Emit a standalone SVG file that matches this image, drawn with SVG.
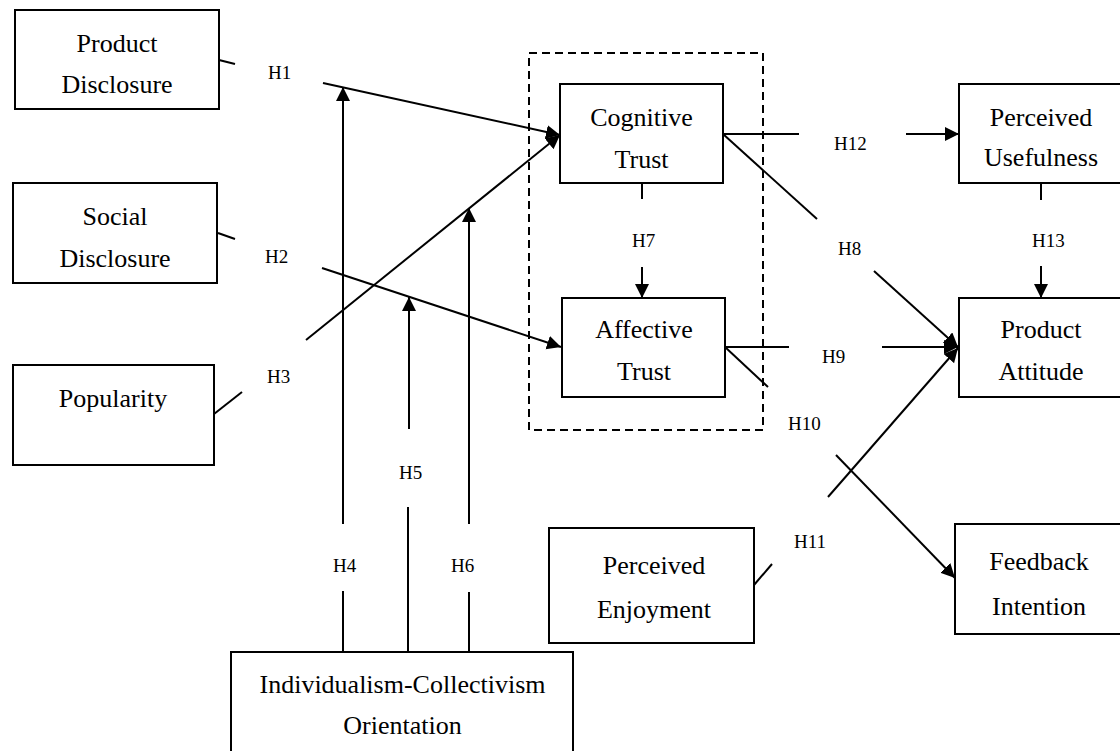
<svg xmlns="http://www.w3.org/2000/svg" width="1120" height="751" viewBox="0 0 1120 751">
<style>
.box{fill:#fff;stroke:#000;stroke-width:2}
.t{font-family:"Liberation Serif","Times New Roman",serif;font-size:26px;fill:#000;text-anchor:middle}
.h{font-family:"Liberation Serif","Times New Roman",serif;font-size:19px;fill:#000}
.c{stroke:#000;stroke-width:2;fill:none}
.a{marker-end:url(#ah)}
</style>
<defs>
<marker id="ah" markerUnits="userSpaceOnUse" markerWidth="15" markerHeight="15" refX="14" refY="7" orient="auto">
<path d="M0,0 L14,7 L0,14 z" fill="#000"/>
</marker>
</defs>
<rect width="1120" height="751" fill="#fff"/>
<rect id="trust-group" x="529" y="53" width="234" height="377" fill="none" stroke="#000" stroke-width="2" stroke-dasharray="8,5"/>
<g id="connectors">
<line class="c" x1="219" y1="60" x2="235" y2="64"/>
<line class="c a" x1="323" y1="83" x2="560" y2="135"/>
<line class="c" x1="218" y1="233" x2="235" y2="239"/>
<line class="c a" x1="322" y1="268" x2="561" y2="347"/>
<line class="c" x1="214" y1="414" x2="242" y2="392"/>
<line class="c a" x1="306" y1="340" x2="560" y2="135"/>
<line class="c" x1="343" y1="652" x2="343" y2="591"/>
<line class="c a" x1="343" y1="524" x2="343" y2="87"/>
<line class="c" x1="408" y1="652" x2="408" y2="507"/>
<line class="c a" x1="409" y1="429" x2="409" y2="297"/>
<line class="c" x1="469" y1="652" x2="469" y2="592"/>
<line class="c a" x1="469" y1="524" x2="469" y2="208"/>
<line class="c" x1="642" y1="183" x2="642" y2="199"/>
<line class="c a" x1="642" y1="267" x2="642" y2="298"/>
<line class="c" x1="723" y1="134" x2="799" y2="134"/>
<line class="c a" x1="906" y1="134" x2="959" y2="134"/>
<line class="c" x1="1041" y1="183" x2="1041" y2="200"/>
<line class="c a" x1="1041" y1="266" x2="1041" y2="298"/>
<line class="c" x1="723" y1="134" x2="817" y2="219"/>
<line class="c a" x1="874" y1="271" x2="958" y2="347"/>
<line class="c" x1="725" y1="347" x2="789" y2="347"/>
<line class="c a" x1="882" y1="347" x2="958" y2="347"/>
<line class="c" x1="725" y1="347" x2="768" y2="387"/>
<line class="c a" x1="836" y1="455" x2="955" y2="578"/>
<line class="c" x1="754" y1="585" x2="772" y2="564"/>
<line class="c a" x1="828" y1="497" x2="958" y2="348"/>
</g>
<g id="labels">
<text class="h" x="268" y="79">H1</text>
<text class="h" x="265" y="263">H2</text>
<text class="h" x="267" y="383">H3</text>
<text class="h" x="333" y="572">H4</text>
<text class="h" x="399" y="479">H5</text>
<text class="h" x="451" y="572">H6</text>
<text class="h" x="632" y="247">H7</text>
<text class="h" x="838" y="255">H8</text>
<text class="h" x="822" y="363">H9</text>
<text class="h" x="788" y="430">H10</text>
<text class="h" x="794" y="548">H11</text>
<text class="h" x="834" y="150">H12</text>
<text class="h" x="1032" y="247">H13</text>
</g>
<g id="product-disclosure">
<rect class="box" x="15" y="10" width="204" height="99"/>
<text class="t" x="117" y="52">Product</text>
<text class="t" x="117" y="93">Disclosure</text>
</g>
<g id="social-disclosure">
<rect class="box" x="13" y="183" width="204" height="100"/>
<text class="t" x="115" y="225">Social</text>
<text class="t" x="115" y="267">Disclosure</text>
</g>
<g id="popularity">
<rect class="box" x="13" y="365" width="201" height="100"/>
<text class="t" x="113" y="407">Popularity</text>
</g>
<g id="cognitive-trust">
<rect class="box" x="560" y="84" width="163" height="99"/>
<text class="t" x="641.5" y="126">Cognitive</text>
<text class="t" x="641.5" y="168">Trust</text>
</g>
<g id="affective-trust">
<rect class="box" x="562" y="298" width="163" height="99"/>
<text class="t" x="644" y="338">Affective</text>
<text class="t" x="644" y="380">Trust</text>
</g>
<g id="perceived-usefulness">
<rect class="box" x="959" y="84" width="172" height="99"/>
<text class="t" x="1041" y="126">Perceived</text>
<text class="t" x="1041" y="166">Usefulness</text>
</g>
<g id="product-attitude">
<rect class="box" x="959" y="298" width="172" height="99"/>
<text class="t" x="1041" y="338">Product</text>
<text class="t" x="1041" y="380">Attitude</text>
</g>
<g id="perceived-enjoyment">
<rect class="box" x="549" y="528" width="205" height="115"/>
<text class="t" x="654" y="574">Perceived</text>
<text class="t" x="654" y="618">Enjoyment</text>
</g>
<g id="feedback-intention">
<rect class="box" x="955" y="524" width="176" height="110"/>
<text class="t" x="1039" y="570">Feedback</text>
<text class="t" x="1039" y="615">Intention</text>
</g>
<g id="individualism-collectivism">
<rect class="box" x="231" y="652" width="342" height="110"/>
<text class="t" x="402.5" y="693">Individualism-Collectivism</text>
<text class="t" x="402.5" y="734">Orientation</text>
</g>
</svg>
